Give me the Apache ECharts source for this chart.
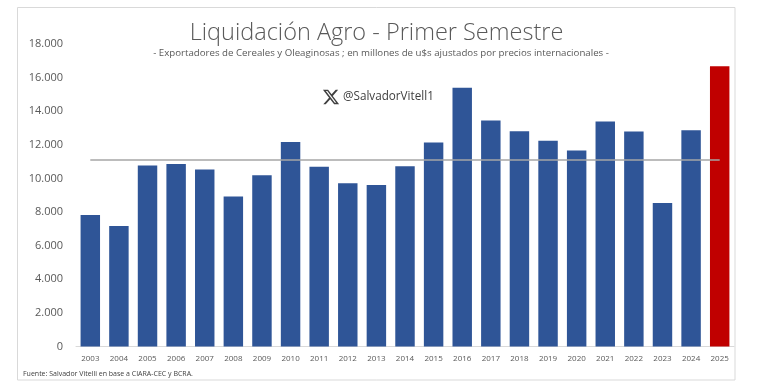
<!DOCTYPE html>
<html>
<head>
<meta charset="utf-8">
<script src="https://cdn.jsdelivr.net/npm/echarts@6/dist/echarts.min.js"></script>
<style>html,body{margin:0;padding:0;background:#fff}#c{width:769px;height:384px}</style>
</head>
<body>
<div id="c"></div>
<script>
const years = ['2003','2004','2005','2006','2007','2008','2009','2010','2011','2012','2013','2014','2015','2016','2017','2018','2019','2020','2021','2022','2023','2024','2025'];
const liquidacion = [7830,7170,10770,10860,10530,8920,10190,12170,10690,9710,9610,10730,12140,15390,13450,12810,12240,11660,13390,12790,8540,12870,16670];
const promedio = 11100;
const yTicks = [0,2000,4000,6000,8000,10000,12000,14000,16000,18000];

const title = 'Liquidación Agro - Primer Semestre';
const subtitle = '- Exportadores de Cereales y Oleaginosas ; en millones de u$s ajustados por precios internacionales -';
const handle = '@SalvadorVitell1';
const fuente = 'Fuente: Salvador Vitelli en base a CIARA-CEC y BCRA.';

const chart = echarts.init(document.getElementById('c'), null, {renderer:'canvas'});
const FONT = '"Open Sans", "Noto Sans", sans-serif';
const xSvg = 'data:image/svg+xml;charset=utf-8,' + encodeURIComponent('<svg xmlns="http://www.w3.org/2000/svg" viewBox="0 0 24 24"><path fill="#404040" d="M18.244 2.25h3.308l-7.227 8.26 8.502 11.24H16.17l-5.214-6.817L4.99 21.75H1.68l7.73-8.835L1.254 2.25H8.08l4.713 6.231zm-1.161 17.52h1.833L7.084 4.126H5.117z"/></svg>');

chart.setOption({
  animation:false,
  backgroundColor:'#ffffff',
  grid:{left:76, right:35, top:44, bottom:37.5},
  xAxis:{
    type:'category', data:years,
    axisLine:{lineStyle:{color:'#d9d9d9', width:1}},
    axisTick:{show:false},
    axisLabel:{color:'#595959', fontSize:8, fontFamily:FONT, margin:8, interval:0}
  },
  yAxis:{
    type:'value', min:yTicks[0], max:yTicks[yTicks.length-1], interval:2000,
    splitLine:{show:false}, axisLine:{show:false}, axisTick:{show:false},
    axisLabel:{color:'#595959', fontSize:11, fontFamily:FONT, margin:13,
      formatter:v => v === 0 ? '0' : (v/1000).toFixed(3)}
  },
  series:[{
    type:'bar', data:liquidacion.map((v,i)=>({value:v, itemStyle:{color: i===liquidacion.length-1 ? '#C00000' : '#2F5597'}})),
    barCategoryGap:'32%',
    markLine:{
      symbol:'none', silent:true, label:{show:false},
      lineStyle:{color:'#a6a6a6', width:1.5, type:'solid'},
      data:[[{coord:[years[0], promedio]},{coord:[years[years.length-1], promedio]}]]
    }
  }],
  graphic:[
    {type:'rect', z:-10, shape:{x:17.5, y:7.5, width:717.5, height:372.5}, style:{fill:'#fff', stroke:'#d9d9d9', lineWidth:1}},
    {type:'text', x:376.5, y:33, style:{text:title, fill:'#595959', font:'300 23.5px '+FONT, textAlign:'center', textVerticalAlign:'middle'}},
    {type:'text', x:381, y:53, style:{text:subtitle, fill:'#595959', font:'9.7px '+FONT, textAlign:'center', textVerticalAlign:'middle'}},
    {type:'image', x:322, y:88, style:{image:xSvg, width:18, height:18}},
    {type:'text', x:343, y:97, style:{text:handle, fill:'#404040', font:'11.7px '+FONT, textAlign:'left', textVerticalAlign:'middle'}},
    {type:'text', x:23, y:374, style:{text:fuente, fill:'#404040', font:'7px '+FONT, textAlign:'left', textVerticalAlign:'middle'}}
  ]
});
</script>
</body>
</html>
